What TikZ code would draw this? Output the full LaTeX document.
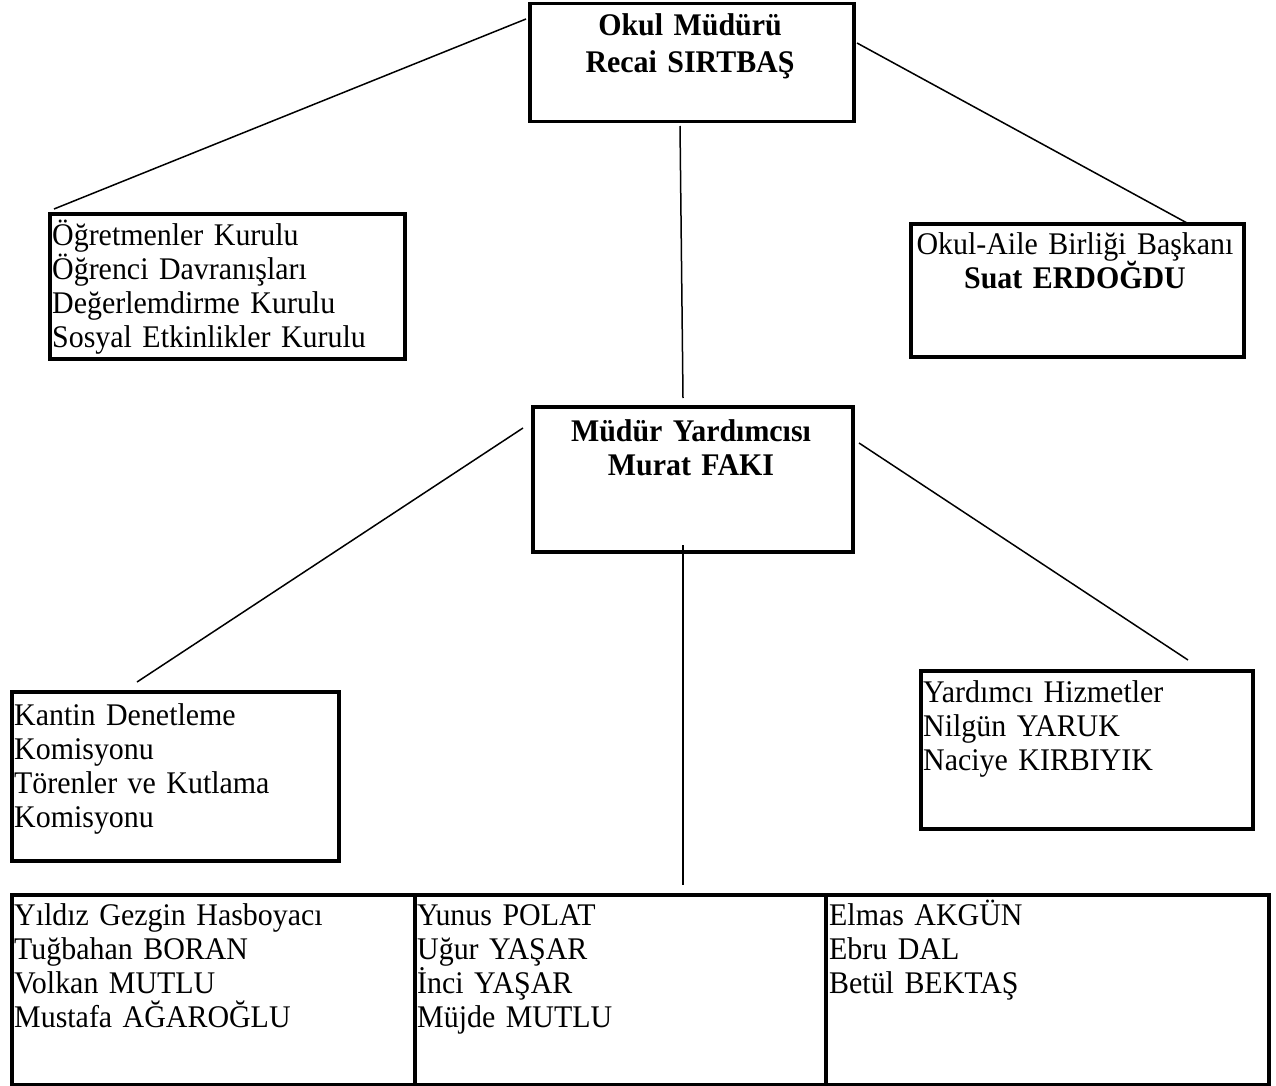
\documentclass[tikz,border=0pt]{standalone}
\usepackage{fontspec}
\setmainfont{Liberation Serif}[FakeStretch=0.95]
\usetikzlibrary{calc}
\begin{document}
\begin{tikzpicture}[x=1pt,y=-1pt,
  box/.style={draw, line width=3.5pt, inner sep=0pt, anchor=north west},
  conn/.style={line width=1.5pt},
  ltxt/.style={font=\fontsize{31.5}{34}\selectfont, inner sep=0pt, anchor=base west, align=left, text width=#1},
  ctxt/.style={font=\fontsize{31.5}{34.5}\selectfont, inner sep=0pt, anchor=base, align=center, text width=#1}]
\useasboundingbox (0,0) rectangle (1276,1086);
% boxes
\node[box, minimum width=324pt, minimum height=118pt] (ob) at (528,2) {};
\node[box, minimum width=355pt, minimum height=145pt] (lb1) at (48,212) {};
\node[box, minimum width=333pt, minimum height=133pt] (rb1) at (909,222) {};
\node[box, minimum width=320pt, minimum height=145pt] (mb) at (531,405) {};
\node[box, minimum width=327pt, minimum height=169pt] (lb2) at (10,690) {};
\node[box, minimum width=332pt, minimum height=158pt] (rb2) at (919,669) {};
\node[box, minimum width=403pt, minimum height=190pt] (b1) at (10,893) {};
\node[box, minimum width=411pt, minimum height=190pt] (b2) at (413,893) {};
\node[box, minimum width=443pt, minimum height=190pt] (b3) at (824,893) {};
% texts
\node[ctxt=320pt] (tob) at (690,36) {\bfseries Okul Müdürü\\[2pt] Recai SIRTBAŞ};
\node[ltxt=345pt] (tlb1) at (52,245) {Öğretmenler Kurulu\\ Öğrenci Davranışları\\ Değerlemdirme Kurulu\\ Sosyal Etkinlikler Kurulu};
\node[ctxt=330pt] (trb1) at (1075,254) {Okul-Aile Birliği Başkanı\\ \bfseries Suat ERDOĞDU};
\node[ctxt=316pt] (tmb) at (691,441) {\bfseries Müdür Yardımcısı\\ Murat FAKI};
\node[ltxt=320pt] (tlb2) at (14,725) {Kantin Denetleme\\ Komisyonu\\ Törenler ve Kutlama\\ Komisyonu};
\node[ltxt=325pt] (trb2) at (923,702) {Yardımcı Hizmetler\\ Nilgün YARUK\\ Naciye KIRBIYIK};
\node[ltxt=395pt] (tb1) at (14,925) {Yıldız Gezgin Hasboyacı\\ Tuğbahan BORAN\\ Volkan MUTLU\\ Mustafa AĞAROĞLU};
\node[ltxt=400pt] (tb2) at (417,925) {Yunus POLAT\\ Uğur YAŞAR\\ İnci YAŞAR\\ Müjde MUTLU};
\node[ltxt=430pt] (tb3) at (829,925) {Elmas AKGÜN\\ Ebru DAL\\ Betül BEKTAŞ};
% connector ends
\coordinate (c1a) at (526,19);
\coordinate (c1b) at (54,209);
\coordinate (c2a) at (857,43);
\coordinate (c2b) at (1187,223);
\coordinate (c3a) at (680,126);
\coordinate (c3b) at (683,398);
\coordinate (c4a) at (523,428);
\coordinate (c4b) at (137,682);
\coordinate (c5a) at (859,443);
\coordinate (c5b) at (1188,660);
\coordinate (c6a) at (683,545);
\coordinate (c6b) at (683,885);
\draw[conn] (c1a) -- (c1b);
\draw[conn] (c2a) -- (c2b);
\draw[conn] (c3a) -- (c3b);
\draw[conn] (c4a) -- (c4b);
\draw[conn] (c5a) -- (c5b);
\draw[conn] (c6a) -- (c6b);
\end{tikzpicture}
\end{document}
